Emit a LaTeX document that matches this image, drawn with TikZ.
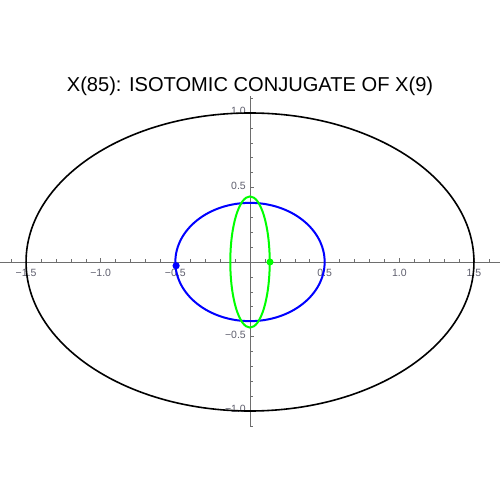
\documentclass[tikz,border=0pt]{standalone}
\usepackage{fontspec}
\setmainfont{Liberation Sans}
\definecolor{axisgray}{RGB}{110,110,110}
\definecolor{ticklab}{RGB}{95,95,110}
\begin{document}
\begin{tikzpicture}[x=149.3pt,y=149pt,
  axisline/.style={draw=axisgray,line width=0.8pt},
  tickline/.style={draw=axisgray,line width=0.5pt},
  ticklabel/.style={font=\fontsize{10.5}{12}\selectfont,text=ticklab,inner sep=0pt},
  curveblack/.style={draw=black,line width=1.6pt},
  curveblue/.style={draw=blue,line width=2pt},
  curvegreen/.style={draw=green,line width=2pt}]
\useasboundingbox[fill=white] (-1.67448,-1.59732) rectangle (1.67448,1.75839);
% axes
\draw[axisline] (-1.674,0) -- (1.674,0);
\draw[axisline] (0,-1.107) -- (0,1.113);
\foreach \i in {-16,...,16}{
  \pgfmathsetmacro{\xx}{\i/10}
  \ifnum\i=0\relax\else
  \draw[tickline] (\xx,0) -- ++(0,2.5pt);
  \fi}
\foreach \i in {-15,-10,-5,5,10,15}{
  \pgfmathsetmacro{\xx}{\i/10}
  \draw[tickline] (\xx,0) -- ++(0,4pt);}
\foreach \i in {-11,...,11}{
  \pgfmathsetmacro{\yy}{\i/10}
  \ifnum\i=0\relax\else
  \draw[tickline] (0,\yy) -- ++(2.5pt,0);
  \fi}
\foreach \i in {-10,-5,5,10}{
  \pgfmathsetmacro{\yy}{\i/10}
  \draw[tickline] (0,\yy) -- ++(4pt,0);}
% tick labels
\node[ticklabel,anchor=base] (xl1) at (-1.5,-0.098) {−1.5};
\node[ticklabel,anchor=base] (xl2) at (-1.0,-0.098) {−1.0};
\node[ticklabel,anchor=base] (xl3) at (-0.5,-0.098) {−0.5};
\node[ticklabel,anchor=base] (xl4) at (0.5,-0.098) {0.5};
\node[ticklabel,anchor=base] (xl5) at (1.0,-0.098) {1.0};
\node[ticklabel,anchor=base] (xl6) at (1.5,-0.098) {1.5};
\node[ticklabel,anchor=base east] (yl1) at (-0.027,-1.013) {−1.0};
\node[ticklabel,anchor=base east] (yl2) at (-0.027,-0.513) {−0.5};
\node[ticklabel,anchor=base east] (yl3) at (-0.027,0.487) {0.5};
\node[ticklabel,anchor=base east] (yl4) at (-0.027,0.987) {1.0};
% curves
\draw[curveblack] (0,0) ellipse [x radius=1.5,y radius=1.0];
\draw[curveblue] (0,0) ellipse [x radius=0.5,y radius=0.397];
\draw[curvegreen] (0,0) ellipse [x radius=0.132,y radius=0.44];
\fill[blue] (-0.495,-0.025) circle (3.6pt);
\fill[green] (0.134,0) circle (3.5pt);
% title
\node[anchor=base,inner sep=0pt,font=\fontsize{20.1}{24}\selectfont] (title) at (0,1.141) {X(85): ISOTOMIC CONJUGATE OF X(9)};
\end{tikzpicture}
\end{document}
